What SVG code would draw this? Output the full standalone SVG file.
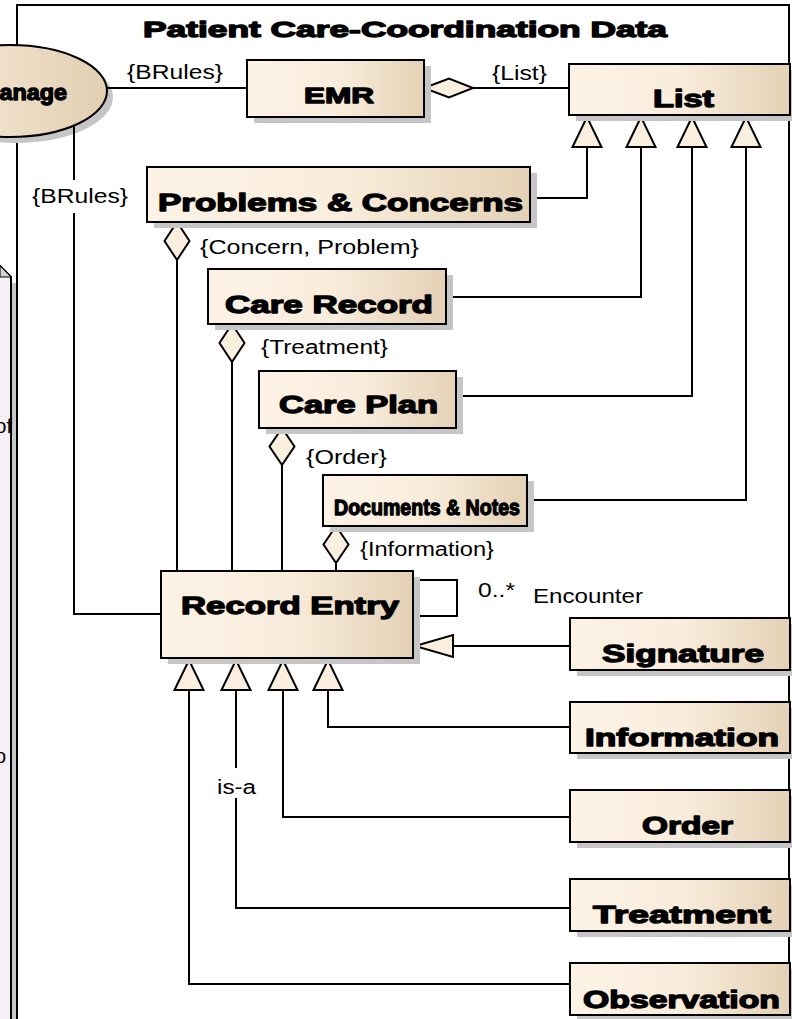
<svg xmlns="http://www.w3.org/2000/svg" width="792" height="1019" viewBox="0 0 792 1019">
  <defs>
    <linearGradient id="fillGrad" x1="0" y1="0" x2="1" y2="0">
      <stop offset="0" stop-color="#fcf3e6"/>
      <stop offset="0.5" stop-color="#f9eddc"/>
      <stop offset="1" stop-color="#e4d1b5"/>
    </linearGradient>
    <linearGradient id="ellGrad" x1="0" y1="0" x2="1" y2="0">
      <stop offset="0" stop-color="#f9eddc"/>
      <stop offset="1" stop-color="#e2cfb2"/>
    </linearGradient>
    <style>
      .box { fill: url(#fillGrad); stroke: #000; stroke-width: 2; }
      .shadow { fill: #c6c6c6; }
      .name { font-family: "Liberation Sans", Arial, sans-serif; font-weight: bold; font-size: 24px; fill: #000; stroke: #000; stroke-width: 1.3; stroke-linejoin: round; text-anchor: middle; }
      .txt { font-family: "Liberation Sans", Arial, sans-serif; font-size: 20px; fill: #000; }
      .conn { fill: none; stroke: #000; stroke-width: 2; }
      .head { fill: #fbf0df; stroke: #000; stroke-width: 2; stroke-linejoin: miter; }
    </style>
  </defs>

  <rect x="0" y="0" width="792" height="1019" fill="#fff"/>

  <!-- neighbouring element at the left edge -->
  <g id="left-panel">
    <rect class="shadow" x="12" y="283" width="5" height="760"/>
    <path d="M-4,266 L0,266 L11,277 L11,1040 L-4,1040 Z" fill="#f5f0f5" stroke="#000" stroke-width="2"/>
    <polygon points="0,266 11,277 0,277" fill="#d2d2d2" stroke="#000" stroke-width="1"/>
    <text class="txt" x="12" y="433" text-anchor="end">of</text>
    <text class="txt" x="6" y="763" text-anchor="end">o</text>
  </g>

  <!-- package frame -->
  <g id="frame">
    <rect x="17" y="5" width="772" height="1040" fill="none" stroke="#000" stroke-width="2"/>
    <text class="name" x="405" y="37" style="font-size:22px" textLength="524" lengthAdjust="spacingAndGlyphs">Patient Care-Coordination Data</text>
  </g>

  <g id="manage">
    <ellipse cx="16" cy="97" rx="97" ry="46" class="shadow"/>
    <ellipse cx="10" cy="91" rx="97" ry="46" fill="url(#ellGrad)" stroke="#000" stroke-width="2"/>
    <text class="name" x="67" y="100" style="text-anchor:end;font-size:22px" textLength="87" lengthAdjust="spacingAndGlyphs">Manage</text>
  </g>

  <!-- connectors -->
  <g id="connectors">
    <path class="conn" d="M107,88 H247"/>
    <path class="conn" d="M473,88 H569"/>
    <path class="conn" d="M74,126 V180 M74,213 V614 H161"/>
    <path class="conn" d="M530,198 H587 V147"/>
    <path class="conn" d="M446,297 H641 V147"/>
    <path class="conn" d="M456,396 H692 V147"/>
    <path class="conn" d="M527,500 H746 V147"/>
    <path class="conn" d="M177,260 V571"/>
    <path class="conn" d="M232,362 V571"/>
    <path class="conn" d="M282,465 V571"/>
    <path class="conn" d="M336,563 V571"/>
    <path class="conn" d="M413,580 H457 V616 H413"/>
    <path class="conn" d="M453,646 H570"/>
    <path class="conn" d="M328,690 V727 H570"/>
    <path class="conn" d="M283,690 V817 H570"/>
    <path class="conn" d="M236,690 V768 M236,798 V908 H570"/>
    <path class="conn" d="M189,690 V984 H570"/>

    <!-- aggregation diamonds -->
    <polygon class="head" points="424,88 449,78.5 473,88 449,97.5"/>
    <polygon class="head" points="177,222 189.5,241 177,260 164.5,241"/>
    <polygon class="head" points="232,324 244.5,343 232,362 219.5,343"/>
    <polygon class="head" points="282,428 294.5,446.5 282,465 269.5,446.5"/>
    <polygon class="head" points="336,526 348.5,544.5 336,563 323.5,544.5"/>

    <!-- generalization arrowheads -->
    <polygon class="head" points="587,117 572.5,147 601.5,147"/>
    <polygon class="head" points="641,117 626.5,147 655.5,147"/>
    <polygon class="head" points="692,117 677.5,147 706.5,147"/>
    <polygon class="head" points="746,117 731.5,147 760.5,147"/>
    <polygon class="head" points="415,646 453,635 453,657"/>
    <polygon class="head" points="189,660 174.5,690 203.5,690"/>
    <polygon class="head" points="236,660 221.5,690 250.5,690"/>
    <polygon class="head" points="283,660 268.5,690 297.5,690"/>
    <polygon class="head" points="328,660 313.5,690 342.5,690"/>

    <!-- connector labels -->
    <text class="txt" x="127" y="79" textLength="96" lengthAdjust="spacingAndGlyphs">{BRules}</text>
    <text class="txt" x="32" y="203" textLength="96" lengthAdjust="spacingAndGlyphs">{BRules}</text>
    <text class="txt" x="492" y="80" textLength="55" lengthAdjust="spacingAndGlyphs">{List}</text>
    <text class="txt" x="200" y="254" textLength="219" lengthAdjust="spacingAndGlyphs">{Concern, Problem}</text>
    <text class="txt" x="261" y="354" textLength="127" lengthAdjust="spacingAndGlyphs">{Treatment}</text>
    <text class="txt" x="306" y="464" textLength="81" lengthAdjust="spacingAndGlyphs">{Order}</text>
    <text class="txt" x="360" y="556" textLength="134" lengthAdjust="spacingAndGlyphs">{Information}</text>
    <text class="txt" x="478" y="597" textLength="37" lengthAdjust="spacingAndGlyphs">0..*</text>
    <text class="txt" x="533" y="603" textLength="110" lengthAdjust="spacingAndGlyphs">Encounter</text>
    <text class="txt" x="217" y="794" textLength="39" lengthAdjust="spacingAndGlyphs">is-a</text>
  </g>

  <!-- classes -->
  <g id="emr">
    <rect class="shadow" x="254" y="66" width="177" height="57"/>
    <rect class="box" x="247" y="60" width="177" height="57"/>
    <text class="name" x="339" y="103" style="font-size:22px" textLength="70" lengthAdjust="spacingAndGlyphs">EMR</text>
  </g>
  <g id="list">
    <rect class="shadow" x="576" y="70" width="221" height="51"/>
    <rect class="box" x="569" y="64" width="221" height="51"/>
    <text class="name" x="683.5" y="107" textLength="61" lengthAdjust="spacingAndGlyphs">List</text>
  </g>
  <g id="problems-concerns">
    <rect class="shadow" x="154" y="173" width="383" height="55"/>
    <rect class="box" x="147" y="167" width="383" height="55"/>
    <text class="name" x="340.5" y="211" textLength="365" lengthAdjust="spacingAndGlyphs">Problems &amp; Concerns</text>
  </g>
  <g id="care-record">
    <rect class="shadow" x="215" y="275" width="238" height="55"/>
    <rect class="box" x="208" y="269" width="238" height="55"/>
    <text class="name" x="329" y="313" textLength="208" lengthAdjust="spacingAndGlyphs">Care Record</text>
  </g>
  <g id="care-plan">
    <rect class="shadow" x="266" y="377" width="197" height="57"/>
    <rect class="box" x="259" y="371" width="197" height="57"/>
    <text class="name" x="358.5" y="413" textLength="159" lengthAdjust="spacingAndGlyphs">Care Plan</text>
  </g>
  <g id="documents-notes">
    <rect class="shadow" x="330" y="481" width="204" height="51"/>
    <rect class="box" x="323" y="475" width="204" height="51"/>
    <text class="name" x="427" y="515" style="font-size:22px" textLength="186" lengthAdjust="spacingAndGlyphs">Documents &amp; Notes</text>
  </g>
  <g id="record-entry">
    <rect class="shadow" x="168" y="577" width="252" height="87"/>
    <rect class="box" x="161" y="571" width="252" height="87"/>
    <text class="name" x="290" y="614" textLength="218" lengthAdjust="spacingAndGlyphs">Record Entry</text>
  </g>
  <g id="signature">
    <rect class="shadow" x="577" y="624" width="220" height="52"/>
    <rect class="box" x="570" y="618" width="220" height="52"/>
    <text class="name" x="683" y="662" textLength="162" lengthAdjust="spacingAndGlyphs">Signature</text>
  </g>
  <g id="information">
    <rect class="shadow" x="577" y="708" width="220" height="51"/>
    <rect class="box" x="570" y="702" width="220" height="51"/>
    <text class="name" x="682" y="746" textLength="194" lengthAdjust="spacingAndGlyphs">Information</text>
  </g>
  <g id="order">
    <rect class="shadow" x="577" y="796" width="220" height="52"/>
    <rect class="box" x="570" y="790" width="220" height="52"/>
    <text class="name" x="687.5" y="834" textLength="91" lengthAdjust="spacingAndGlyphs">Order</text>
  </g>
  <g id="treatment">
    <rect class="shadow" x="577" y="885" width="220" height="52"/>
    <rect class="box" x="570" y="879" width="220" height="52"/>
    <text class="name" x="682" y="923" textLength="178" lengthAdjust="spacingAndGlyphs">Treatment</text>
  </g>
  <g id="observation">
    <rect class="shadow" x="577" y="969" width="220" height="52"/>
    <rect class="box" x="570" y="963" width="220" height="52"/>
    <text class="name" x="681.5" y="1008" textLength="197" lengthAdjust="spacingAndGlyphs">Observation</text>
  </g>
</svg>
